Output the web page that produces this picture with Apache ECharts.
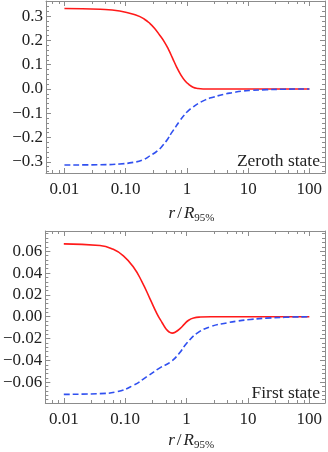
<!DOCTYPE html>
<html>
<head>
<meta charset="utf-8">
<script src="https://cdn.jsdelivr.net/npm/echarts@6/dist/echarts.min.js"></script>
<style>
  html, body { margin: 0; padding: 0; background: #fff; }
  #main { width: 328px; height: 452px; }
</style>
</head>
<body>
<div id="main"></div>
<script>
(function() {
  'use strict';

  // values (r / R95%, amplitude)
  var zeroRedR = [0.01, 0.0385, 0.08, 0.15, 0.2, 0.25, 0.3, 0.36, 0.43, 0.5, 0.58, 0.68, 0.8, 0.93, 1.08, 1.26, 1.5, 1.84, 3, 100];
  var zeroRedY = [0.331, 0.328, 0.321, 0.303, 0.288, 0.269, 0.248, 0.221, 0.193, 0.163, 0.128, 0.090, 0.057, 0.034, 0.018, 0.007, 0.002, 0, 0, 0];

  var zeroBlueR = [0.01, 0.0385, 0.08, 0.135, 0.19, 0.251, 0.33, 0.412, 0.49, 0.564, 0.66, 0.77, 0.9, 1.05, 1.25, 1.53, 2, 2.68, 4, 5.66, 8, 11, 20, 40, 100];
  var zeroBlueY = [-0.313, -0.312, -0.309, -0.302, -0.292, -0.275, -0.255, -0.230, -0.205, -0.180, -0.155, -0.130, -0.108, -0.090, -0.075, -0.060, -0.045, -0.034, -0.022, -0.015, -0.009, -0.006, -0.003, -0.001, 0];

  var firstRedR = [0.01, 0.0388, 0.064, 0.0935, 0.136, 0.187, 0.256, 0.33, 0.4, 0.46, 0.52, 0.58, 0.66, 0.79, 0.93, 1.08, 1.3, 1.68, 2.5, 100];
  var firstRedY = [0.0667, 0.0652, 0.0617, 0.0558, 0.0455, 0.0322, 0.0159, 0.0027, -0.0055, -0.0110, -0.0140, -0.0150, -0.0140, -0.0106, -0.0065, -0.0032, -0.0012, -0.0003, 0, 0];

  var firstBlueR = [0.01, 0.0388, 0.073, 0.136, 0.225, 0.373, 0.543, 0.743, 1.02, 1.49, 2.45, 4.6, 6.7, 11, 20, 40, 100];
  var firstBlueY = [-0.0711, -0.0704, -0.0687, -0.0628, -0.0549, -0.0466, -0.0416, -0.0342, -0.0239, -0.0150, -0.0091, -0.0056, -0.0040, -0.0025, -0.0013, -0.0005, 0];

  var xTickValues = [0.01, 0.1, 1, 10, 100];
  var xTickLabels = ['0.01', '0.10', '1', '10', '100'];
  var panelLabels = ['Zeroth state', 'First state'];

  var FONT = 'Liberation Serif';
  var frameColor = '#8c8c8c';
  var red = '#ff1a1a';
  var blue = '#3050f0';

  function pairs(xs, ys) {
    return xs.map(function(x, i) { return [x, ys[i]]; });
  }

  function xLabel(v) {
    for (var i = 0; i < xTickValues.length; i++) {
      if (Math.abs(Math.log10(v) - Math.log10(xTickValues[i])) < 1e-6) {
        return xTickLabels[i];
      }
    }
    return '';
  }

  function yLabelFn(step, digits) {
    return function(v) {
      var k = v / step;
      if (Math.abs(k - Math.round(k)) > 1e-6) {
        return '';
      }
      var s = Math.abs(v).toFixed(digits);
      return v < -1e-9 ? '\u2212' + s : s;
    };
  }

  function xAxis(gridIndex, mirror, nameGap) {
    return {
      type: 'log',
      gridIndex: gridIndex,
      position: mirror ? 'top' : 'bottom',
      min: 0.005,
      max: 180,
      logBase: 10,
      name: mirror ? '' : '{i|r}{n|/}{i|R}{s|95%}',
      nameLocation: 'middle',
      nameGap: nameGap,
      nameTextStyle: {
        padding: [0, 0, 0, 12],
        rich: {
          i: { fontFamily: FONT, fontStyle: 'italic', fontSize: 17, color: '#222' },
          n: { fontFamily: FONT, fontSize: 17, color: '#222', padding: [0, 2, 0, 2] },
          s: { fontFamily: FONT, fontSize: 11, color: '#222', padding: [9, 0, 0, 0] }
        }
      },
      axisLine: { show: true, onZero: false, lineStyle: { color: frameColor, width: 1 } },
      axisTick: { show: true, inside: true, length: 5, lineStyle: { color: frameColor } },
      minorTick: { show: true, splitNumber: 5, length: 3, lineStyle: { color: frameColor } },
      axisLabel: {
        show: !mirror,
        formatter: xLabel,
        fontFamily: FONT,
        fontSize: 17,
        color: '#222',
        margin: 8
      },
      splitLine: { show: false }
    };
  }

  function yAxis(gridIndex, mirror, min, max, step, digits) {
    return {
      type: 'value',
      gridIndex: gridIndex,
      position: mirror ? 'right' : 'left',
      min: min,
      max: max,
      splitNumber: 7,
      axisLine: { show: true, onZero: false, lineStyle: { color: frameColor, width: 1 } },
      axisTick: { show: true, inside: true, length: 5, lineStyle: { color: frameColor } },
      minorTick: { show: true, splitNumber: 5, length: 3, lineStyle: { color: frameColor } },
      axisLabel: {
        show: !mirror,
        formatter: yLabelFn(step, digits),
        fontFamily: FONT,
        fontSize: 17,
        color: '#222',
        margin: 3
      },
      splitLine: { show: false }
    };
  }

  function line(xi, yi, data, color, dashed) {
    return {
      type: 'line',
      xAxisIndex: xi,
      yAxisIndex: yi,
      data: data,
      smooth: 0.5,
      showSymbol: false,
      animation: false,
      lineStyle: { color: color, width: 1.6, type: dashed ? [6, 3] : 'solid' }
    };
  }

  var chart = echarts.init(document.getElementById('main'));

  chart.setOption({
    backgroundColor: '#fff',
    animation: false,
    grid: [
      { left: 46, right: 3, top: 1, height: 172 },
      { left: 45, right: 3, top: 231, height: 178 }
    ],
    xAxis: [
      xAxis(0, false, 31), xAxis(0, true, 0),
      xAxis(1, false, 28), xAxis(1, true, 0)
    ],
    yAxis: [
      yAxis(0, false, -0.346, 0.362, 0.1, 1), yAxis(0, true, -0.346, 0.362, 0.1, 1),
      yAxis(1, false, -0.079, 0.0785, 0.02, 2), yAxis(1, true, -0.079, 0.0785, 0.02, 2)
    ],
    series: [
      line(0, 0, pairs(zeroRedR, zeroRedY), red, false),
      line(0, 0, pairs(zeroBlueR, zeroBlueY), blue, true),
      line(2, 2, pairs(firstRedR, firstRedY), red, false),
      line(2, 2, pairs(firstBlueR, firstBlueY), blue, true)
    ],
    graphic: [
      {
        type: 'text', right: 8, top: 152,
        style: { text: panelLabels[0], fontFamily: FONT, fontSize: 17.5, fill: '#222' }
      },
      {
        type: 'text', right: 8, top: 384,
        style: { text: panelLabels[1], fontFamily: FONT, fontSize: 17.5, fill: '#222' }
      }
    ]
  });
})();
</script>
</body>
</html>
